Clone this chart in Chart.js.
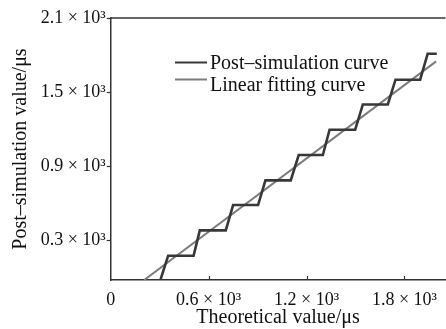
<!DOCTYPE html>
<html>
<head>
<meta charset="utf-8">
<script src="https://cdn.jsdelivr.net/npm/chart.js@4/dist/chart.umd.min.js"></script>
<style>
html,body{margin:0;padding:0;background:#fff;}
#wrap{width:446px;height:329px;position:relative;}
</style>
</head>
<body>
<div id="wrap"><canvas id="c" width="446" height="329"></canvas></div>
<script>
// Post-simulation step curve (x: theoretical value, y: post-simulation value), in µs
const stepX = [306, 352, 508, 546, 705, 750, 903, 948, 1103, 1152, 1300, 1341, 1498, 1545, 1698, 1745, 1896, 1942, 1998];
const stepY = [-16, 175, 175, 380, 380, 585, 585, 785, 785, 990, 990, 1195, 1195, 1400, 1400, 1600, 1600, 1810, 1810];
// Linear fitting curve endpoints
const fitX = [205, 1994];
const fitY = [-22, 1749];
// Axis ticks
const xTicks = [0, 600, 1200, 1800];
const xTickLabels = ['0', '0.6 × 10³', '1.2 × 10³', '1.8 × 10³'];
const yTicks = [300, 900, 1500, 2100];
const yTickLabels = ['0.3 × 10³', '0.9 × 10³', '1.5 × 10³', '2.1 × 10³'];
const seriesNames = ['Post–simulation curve', 'Linear fitting curve'];

const SERIF = '"Liberation Serif", "DejaVu Serif", serif';
const stepColor = '#383838';
const fitColor = '#7c7c7c';

const toPts = (xs, ys) => xs.map((x, i) => ({x: x, y: ys[i]}));

const framePlugin = {
  id: 'frame',
  afterDatasetsDraw(chart) {
    const ctx = chart.ctx, a = chart.chartArea;
    const xs = chart.scales.x;
    ctx.save();
    ctx.strokeStyle = '#333';
    ctx.lineWidth = 1.5;
    ctx.beginPath();
    ctx.moveTo(a.left, a.top);
    ctx.lineTo(a.right, a.top);
    ctx.stroke();
    // inside ticks on x axis
    ctx.lineWidth = 1.2;
    xTicks.forEach(v => {
      if (v === 0) return;
      const px = Math.round(xs.getPixelForValue(v)) + 0.5;
      ctx.beginPath();
      ctx.moveTo(px, a.bottom);
      ctx.lineTo(px, a.bottom - 4);
      ctx.stroke();
    });
    // legend
    const ds = chart.data.datasets;
    const items = [{ly: 62.5, ty: 68.5}, {ly: 79.5, ty: 91}];
    items.forEach((it, i) => {
      ctx.strokeStyle = ds[i].borderColor;
      ctx.lineWidth = 2;
      ctx.beginPath();
      ctx.moveTo(175, it.ly);
      ctx.lineTo(207, it.ly);
      ctx.stroke();
      ctx.fillStyle = '#111';
      ctx.font = '20px ' + SERIF;
      ctx.textBaseline = 'alphabetic';
      ctx.textAlign = 'left';
      ctx.fillText(ds[i].label, 210, it.ty);
    });
    ctx.restore();
  }
};

new Chart(document.getElementById('c'), {
  type: 'line',
  data: {
    datasets: [
      {label: seriesNames[0], data: toPts(stepX, stepY), borderColor: stepColor, borderWidth: 2.6, pointRadius: 0, tension: 0, fill: false},
      {label: seriesNames[1], data: toPts(fitX, fitY), borderColor: fitColor, borderWidth: 2, pointRadius: 0, tension: 0, fill: false}
    ]
  },
  options: {
    responsive: false,
    animation: false,
    layout: {padding: {left: 0, right: 0, top: 18, bottom: 0}},
    plugins: {legend: {display: false}, tooltip: {enabled: false}},
    scales: {
      x: {
        type: 'linear', min: 0, max: 2051,
        afterBuildTicks: s => { s.ticks = xTicks.map(v => ({value: v})); },
        afterFit: s => { s.height = 49; },
        grid: {display: true, drawOnChartArea: false, drawTicks: false, tickLength: 0},
        border: {display: true, color: '#333', width: 1.5},
        ticks: {
          font: {family: SERIF, size: 18}, color: '#111', padding: 9, maxRotation: 0, autoSkip: false,
          callback: (v) => { const i = xTicks.indexOf(v); return i >= 0 ? xTickLabels[i] : ''; }
        },
        title: {display: true, text: 'Theoretical value/μs', font: {family: SERIF, size: 20, lineHeight: 1}, color: '#111', padding: {top: 0, bottom: 1}}
      },
      y: {
        type: 'linear', min: -22, max: 2100,
        afterBuildTicks: s => { s.ticks = yTicks.map(v => ({value: v})); },
        afterFit: s => { s.width = 110.7; },
        grid: {display: true, drawOnChartArea: false, drawTicks: true, tickLength: 4, color: '#333', tickColor: '#333', tickWidth: 1.2},
        border: {display: true, color: '#333', width: 1.5},
        ticks: {
          font: {family: SERIF, size: 18}, color: '#111', padding: 1, autoSkip: false,
          callback: (v) => { const i = yTicks.indexOf(v); return i >= 0 ? yTickLabels[i] : ''; }
        },
        title: {display: true, text: 'Post–simulation value/μs', font: {family: SERIF, size: 20, lineHeight: 1.2}, color: '#111', padding: {top: 9, bottom: 0}}
      }
    }
  },
  plugins: [framePlugin]
});
</script>
</body>
</html>
